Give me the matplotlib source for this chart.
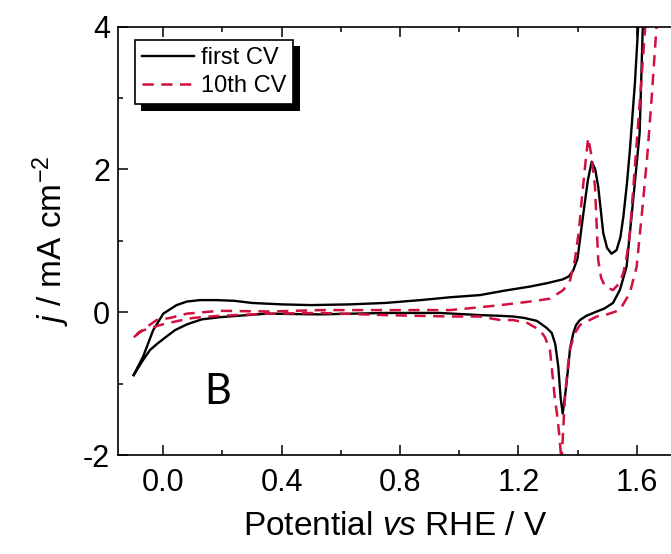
import numpy as np
import matplotlib
matplotlib.use("Agg")
import matplotlib.pyplot as plt
from matplotlib.patches import Rectangle
from matplotlib.ticker import MultipleLocator, FormatStrFormatter

plt.rcParams['font.family'] = ['Liberation Sans', 'DejaVu Sans']
plt.rcParams['mathtext.fontset'] = 'custom'
plt.rcParams['mathtext.rm'] = 'Liberation Sans'
plt.rcParams['mathtext.it'] = 'Liberation Sans:italic'
plt.rcParams['axes.unicode_minus'] = False

#######################################################################################################
"""Data read off the picture (potential vs RHE / V, current density / mA cm-2)"""
#######################################################################################################
# first CV, anodic sweep
first_fwd_E = [-0.10, -0.068, -0.034, 0.0, 0.045, 0.08, 0.124, 0.18, 0.24, 0.30, 0.40, 0.50,
               0.63, 0.75, 0.87, 0.97, 1.07, 1.15, 1.24, 1.30, 1.35, 1.37, 1.385, 1.40, 1.42,
               1.435, 1.448, 1.46, 1.47, 1.487, 1.50, 1.515, 1.532, 1.545, 1.555, 1.567, 1.577,
               1.594, 1.605, 1.615]
first_fwd_j = [-0.88, -0.62, -0.25, -0.02, 0.10, 0.15, 0.17, 0.17, 0.16, 0.13, 0.11, 0.10,
               0.11, 0.13, 0.17, 0.21, 0.24, 0.30, 0.36, 0.41, 0.46, 0.50, 0.58, 0.75, 1.39,
               1.85, 2.11, 2.0, 1.76, 1.11, 0.90, 0.82, 0.87, 1.05, 1.34, 1.80, 2.27,
               3.21, 4.0, 4.6]
# first CV, cathodic sweep
first_rev_E = [1.625, 1.61, 1.59, 1.577, 1.566, 1.543, 1.52, 1.49, 1.465, 1.43, 1.408, 1.395,
               1.386, 1.375, 1.369, 1.36, 1.35, 1.343, 1.335, 1.325, 1.313, 1.296, 1.262, 1.22,
               1.183, 1.138, 1.07, 0.935, 0.75, 0.53, 0.35, 0.19, 0.13, 0.08, 0.04, 0.011,
               -0.02, -0.045, -0.07, -0.10]
first_rev_j = [4.6, 2.51, 1.65, 1.11, 0.64, 0.31, 0.13, 0.05, 0.01, -0.05, -0.11, -0.18,
               -0.29, -0.50, -0.76, -1.10, -1.42, -1.20, -0.76, -0.45, -0.29, -0.22, -0.12, -0.08,
               -0.06, -0.05, -0.04, -0.01, -0.01, -0.03, -0.02, -0.07, -0.10, -0.17, -0.25, -0.34,
               -0.44, -0.53, -0.68, -0.88]
# 10th CV, anodic sweep
tenth_fwd_E = [-0.10, -0.06, -0.023, 0.023, 0.08, 0.19, 0.36, 0.53, 0.75, 0.97, 1.07, 1.14,
               1.24, 1.307, 1.352, 1.375, 1.391, 1.405, 1.414, 1.427, 1.436, 1.447, 1.459, 1.465,
               1.47, 1.48, 1.493, 1.52, 1.54, 1.555, 1.567, 1.577, 1.594, 1.611, 1.628, 1.64]
tenth_fwd_j = [-0.35, -0.22, -0.11, -0.08, -0.02, 0.02, 0.01, 0.03, 0.03, 0.03, 0.07, 0.10,
               0.15, 0.19, 0.31, 0.45, 0.73, 1.15, 1.57, 2.1, 2.44, 2.2, 1.76, 1.2,
               0.73, 0.48, 0.36, 0.31, 0.40, 0.55, 0.80, 1.11, 2.04, 2.97, 3.95, 4.6]
# 10th CV, cathodic sweep
tenth_rev_E = [1.675, 1.667, 1.65, 1.636, 1.622, 1.6, 1.577, 1.543, 1.50, 1.465, 1.408, 1.39,
               1.374, 1.365, 1.357, 1.351, 1.346, 1.338, 1.33, 1.324, 1.307, 1.29, 1.273, 1.23,
               1.183, 1.14, 1.07, 0.97, 0.75, 0.53, 0.36, 0.19, 0.10, 0.04, -0.011, -0.05,
               -0.079, -0.10]
tenth_rev_j = [4.6, 4.0, 2.97, 2.2, 1.57, 0.64, 0.27, 0.03, -0.03, -0.06, -0.18, -0.30,
               -0.53, -0.85, -1.23, -1.7, -2.1, -1.7, -1.4, -1.23, -0.53, -0.35, -0.25, -0.15,
               -0.11, -0.11, -0.06, -0.06, -0.04, -0.01, -0.02, -0.05, -0.08, -0.13, -0.18, -0.23,
               -0.27, -0.35]

labels = ["first CV", "10th CV"]
red = '#d0103f'

#######################################################################################################
"""Plot"""
#######################################################################################################
fig = plt.figure(figsize=(6.71, 5.54), dpi=100)
ax = fig.add_axes([0.1763, 0.1787, 0.8237, 0.7731])

ax.plot(first_fwd_E + first_rev_E, first_fwd_j + first_rev_j, '-', color='black', lw=1.7,
        label=labels[0])
ax.plot(tenth_fwd_E + tenth_rev_E, tenth_fwd_j + tenth_rev_j, '--', color=red, lw=1.8,
        dashes=(4.5, 3), label=labels[1])

ax.set_xlim(-0.152, 1.716)
ax.set_ylim(-2, 4)
ax.xaxis.set_major_locator(MultipleLocator(0.4))
ax.xaxis.set_minor_locator(MultipleLocator(0.2))
ax.yaxis.set_major_locator(MultipleLocator(2))
ax.yaxis.set_minor_locator(MultipleLocator(1))
ax.xaxis.set_major_formatter(FormatStrFormatter('%.1f'))
ax.yaxis.set_major_formatter(FormatStrFormatter('%d'))

ax.tick_params(which='both', direction='in', top=True, right=False, width=1.1)
ax.tick_params(which='major', length=7, labelsize=22)
ax.tick_params(axis='x', which='major', pad=9)
ax.tick_params(axis='y', which='major', pad=6)
ax.tick_params(which='minor', length=3.5)
ax.spines['right'].set_visible(False)
for s in ['left', 'top', 'bottom']:
    ax.spines[s].set_linewidth(1.2)

ax.set_xlabel(r"Potential $\it{vs}$ RHE / V", fontsize=24, labelpad=10)
ax.set_ylabel(r"$\it{j}$ / mA cm$^{-2}$", fontsize=24, labelpad=8)

ax.text(0.185, -1.12, "B", fontsize=30, family='Lato', ha='center', va='center')

leg = ax.legend(loc='upper left', bbox_to_anchor=(0.030, 0.969), borderaxespad=0,
                fontsize=17, handlelength=2.2, handletextpad=0.3, borderpad=0.3,
                labelspacing=0.25, fancybox=False, framealpha=1, edgecolor='black')
leg.get_frame().set_linewidth(1.2)

# black drop shadow under the legend box
fig.canvas.draw()
bb = leg.get_window_extent().transformed(ax.transAxes.inverted())
dx = 6.5 / (ax.bbox.width)
dy = 6.5 / (ax.bbox.height)
ax.add_patch(Rectangle((bb.x0 + dx, bb.y0 - dy), bb.width, bb.height, transform=ax.transAxes,
                       facecolor='black', edgecolor='none', zorder=4.9, clip_on=False))

fig.savefig("out.png", dpi=100)
